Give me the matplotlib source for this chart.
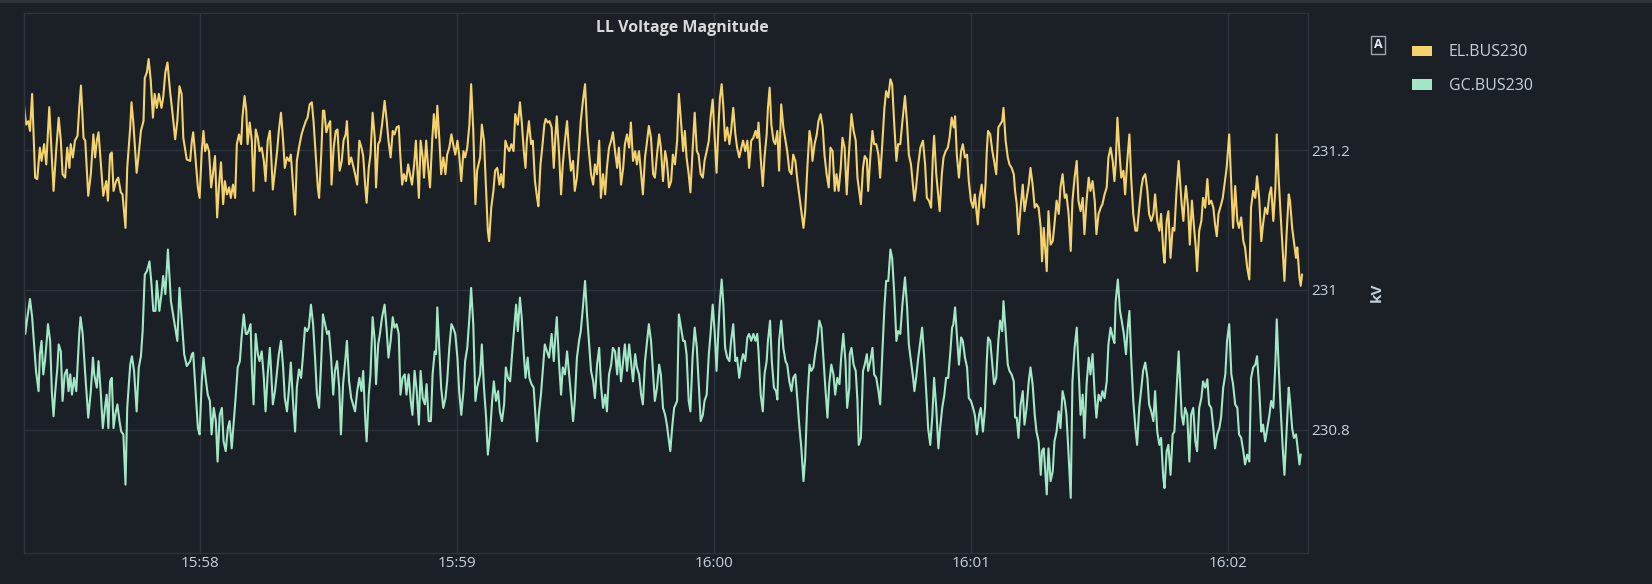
import datetime as dt
import matplotlib
matplotlib.use("Agg")
import matplotlib.pyplot as plt
import matplotlib.dates as mdates
from matplotlib.patches import Rectangle
from matplotlib.legend import Legend
from matplotlib.patches import Patch

plt.rcParams['font.family'] = ['Open Sans', 'DejaVu Sans']

# ---------------- data (seconds after 15:57:00, kV) ----------------
el_time = [
    18.9, 19.4, 19.9, 20.3, 20.8, 21.5, 22.0, 22.6, 23.0, 23.6,
    24.1, 24.8, 25.8, 26.4, 27.0, 27.5, 27.9, 28.5, 29.0, 29.5,
    29.8, 30.3, 30.8, 31.4, 31.8, 32.2, 32.8, 33.2, 33.9, 34.5,
    35.1, 35.5, 35.9, 36.3, 36.8, 37.4, 38.1, 38.5, 39.0, 39.4,
    39.8, 40.4, 40.9, 41.5, 41.9, 42.6, 43.0, 43.7, 44.0, 44.4,
    45.2, 45.6, 46.2, 46.8, 47.1, 47.6, 48.0, 48.5, 49.0, 49.4,
    49.9, 50.4, 51.0, 51.4, 51.9, 52.4, 53.0, 53.6, 54.2, 54.7,
    55.2, 55.7, 56.1, 56.9,
    57.7, 58.1, 58.4, 58.8, 59.5, 59.9, 60.4, 60.8, 61.2, 61.6,
    62.1, 62.6, 63.0, 63.5, 64.0, 64.4, 64.9, 65.4, 65.8, 66.3,
    66.8, 67.2, 67.7, 68.2, 68.6, 69.1, 69.6, 69.9, 70.4, 70.8,
    71.1, 71.6, 72.1, 72.5, 73.0, 73.5, 73.9, 74.4, 74.9, 75.3,
    75.8, 76.3, 76.6, 77.0, 77.5, 78.0, 78.4, 78.9, 79.4, 79.8,
    80.3, 80.8, 81.2, 81.7, 82.2, 82.6, 83.1, 83.7, 84.2, 84.7,
    85.1, 85.6, 86.1, 86.5, 87.0, 87.5, 87.8, 88.3, 88.7, 89.0,
    89.5, 90.0, 90.4, 90.7, 91.2, 91.7, 92.1, 92.6, 93.1, 93.5,
    94.0, 94.3, 94.8, 95.3,
    96.2, 96.7, 97.2, 97.7, 98.1, 98.6, 98.9, 99.4, 99.8, 100.3,
    100.8, 101.1, 101.6, 102.0, 102.5, 103.1, 103.6, 104.0, 104.5, 105.0,
    105.4, 105.9, 106.4, 106.7, 107.2, 107.6, 108.1, 108.6, 109.0, 109.5,
    110.0, 110.4, 111.1, 111.5, 112.0, 112.3, 112.8, 113.2, 113.7, 114.2,
    114.6, 115.1, 115.4, 115.9, 116.3, 116.8, 117.3, 117.7, 118.2, 118.7,
    119.1, 119.6, 120.1, 120.5, 121.0, 121.5, 121.9, 122.4, 122.9, 123.3,
    123.8, 124.3, 124.7, 125.4, 125.8, 126.3, 126.8, 127.2, 127.5, 128.0,
    128.5, 128.9, 129.4, 129.9, 130.3, 130.8, 131.3, 131.8, 132.2, 132.7,
    133.2, 133.6, 134.2,
    134.7, 135.1, 135.6, 136.0, 136.3, 136.8, 137.3, 137.7, 138.2, 138.7,
    139.0, 139.5, 139.9, 140.4, 140.7, 141.2, 141.6, 142.1, 142.6, 143.0,
    143.3, 143.8, 144.3, 144.7, 145.2, 145.7, 146.1, 146.6, 147.1, 147.5,
    148.0, 148.5, 148.9, 149.4, 149.9, 150.4, 150.8, 151.3, 151.8, 152.2,
    152.7, 153.2, 153.6, 154.1, 154.6, 155.0, 155.5, 156.0, 156.4, 156.9,
    157.4, 157.8, 158.3, 158.8, 159.2, 159.7, 160.2, 160.6, 161.1, 161.6,
    162.0, 162.5, 163.0, 163.4, 163.9, 164.4, 164.8, 165.3, 165.8, 166.2,
    166.7, 167.2, 167.6, 168.1, 168.6, 169.0, 169.5, 170.0, 170.4, 170.9,
    171.4, 171.8, 172.3, 172.8,
    173.2, 173.6, 174.1, 174.5, 175.0, 175.5, 176.0, 176.4, 176.9, 177.4,
    177.8, 178.3, 178.8, 179.2, 179.7, 180.2, 180.6, 181.1, 181.4, 181.8,
    182.2, 182.6, 183.1, 183.6, 184.0, 184.5, 185.0, 185.4, 185.9, 186.4,
    186.8, 187.3, 187.8, 188.2, 188.7, 189.2, 189.7, 190.1, 190.4, 190.9,
    191.4, 191.8, 192.3, 192.6, 193.0, 193.4, 193.9, 194.3, 194.8, 195.2,
    195.7, 196.2, 196.7, 197.1, 197.6, 198.1, 198.5, 199.0, 199.5, 199.9,
    200.4, 200.9, 201.3, 201.8, 202.3, 202.7, 203.0, 203.5, 204.0, 204.4,
    204.9, 205.4, 205.8, 206.3, 206.8, 207.2, 207.7, 208.2, 208.6, 209.1,
    209.6, 210.0, 210.5, 211.0, 211.4,
    211.7, 212.1, 212.6, 213.1, 213.5, 214.0, 214.3, 214.8, 215.2, 215.7,
    216.0, 216.5, 217.0, 217.4, 217.9, 218.4, 218.8, 219.3, 219.8, 220.2,
    220.7, 221.2, 221.6, 222.1, 222.6, 223.0, 223.5, 224.0, 224.6, 225.1,
    225.5, 226.0, 226.5, 226.8, 227.2, 227.7, 228.2, 228.8, 229.3, 229.7,
    230.2, 230.7, 231.1, 231.4, 231.9, 232.4, 232.7, 233.2, 233.6, 234.1,
    234.6, 235.0, 235.5, 236.0, 236.3, 236.7, 237.2, 237.7, 238.1, 238.6,
    239.1, 239.5, 240.0, 240.5, 240.9, 241.6, 242.0, 242.5, 243.0, 243.4,
    243.7, 244.0, 244.5, 245.0, 245.4, 245.9, 246.4, 246.8, 247.3, 247.6,
    248.1, 248.6, 249.0, 249.5, 250.0,
    250.3, 250.7, 251.1, 251.6, 252.1, 252.5, 253.0, 253.5, 253.9, 254.4,
    254.9, 255.3, 255.8, 256.3, 256.6, 257.0, 257.7, 258.1, 258.6, 259.1,
    259.5, 260.0, 260.5, 260.9, 261.4, 261.9, 262.3, 262.8, 263.3, 263.7,
    264.2, 264.7, 265.1, 265.6, 266.1, 266.5, 267.0, 267.5, 267.9, 268.4,
    268.9, 269.3, 269.8, 270.3, 270.7, 271.2, 271.7, 272.1, 272.6, 273.1,
    273.5, 273.8, 274.2, 274.6, 275.1, 275.6, 276.0, 276.5, 277.0, 277.4,
    277.9, 278.4, 278.8, 279.3, 279.8, 280.2, 280.7, 281.2, 281.6, 282.1,
    282.6, 283.0, 283.5, 284.0, 284.4, 284.9, 285.2, 285.7, 286.1, 286.6,
    287.1, 287.5, 288.0, 288.5,
    289.2, 289.6, 289.9, 290.2, 290.7, 291.1, 291.6, 292.1, 292.5, 292.8,
    293.3, 293.8, 294.2, 294.7, 295.2, 295.6, 296.1, 296.6, 297.0, 297.4,
    297.8, 298.3, 298.8, 299.2, 299.7, 300.0, 300.3, 300.8, 301.2, 301.7,
    302.2, 302.6, 303.1, 303.6, 304.0, 304.5, 305.0, 305.4, 305.9, 306.4,
    306.8, 307.3, 307.8, 308.2, 308.7, 309.2, 309.7, 310.1, 310.6, 311.1,
    311.4, 311.8, 312.3, 312.8, 313.2, 313.7, 314.2, 314.5, 315.0, 315.4,
    315.9, 316.2, 316.7, 317.0, 317.3,
]

el_kv = [
    231.264, 231.237, 231.242, 231.228, 231.281, 231.161, 231.159, 231.204, 231.185, 231.209,
    231.180, 231.262, 231.142, 231.199, 231.247, 231.214, 231.166, 231.161, 231.204, 231.175,
    231.209, 231.190, 231.214, 231.221, 231.261, 231.293, 231.218, 231.214, 231.135, 231.166,
    231.223, 231.190, 231.214, 231.226, 231.185, 231.135, 231.156, 231.128, 231.194, 231.197,
    231.142, 231.156, 231.161, 231.140, 231.137, 231.089, 231.175, 231.233, 231.269, 231.242,
    231.168, 231.190, 231.228, 231.242, 231.304, 231.312, 231.331, 231.300, 231.247, 231.281,
    231.261, 231.281, 231.261, 231.276, 231.312, 231.326, 231.285, 231.252, 231.216, 231.242,
    231.292, 231.281, 231.218, 231.187,
    231.185, 231.214, 231.226, 231.199, 231.147, 231.132, 231.199, 231.228, 231.199, 231.209,
    231.199, 231.147, 231.166, 231.192, 231.104, 231.147, 231.183, 231.123, 231.156, 231.137,
    231.147, 231.132, 231.151, 231.132, 231.209, 231.223, 231.209, 231.247, 231.278, 231.257,
    231.209, 231.240, 231.214, 231.142, 231.230, 231.218, 231.199, 231.204, 231.185, 231.156,
    231.214, 231.228, 231.194, 231.144, 231.171, 231.199, 231.228, 231.254, 231.214, 231.175,
    231.190, 231.185, 231.194, 231.151, 231.108, 231.185, 231.204, 231.223, 231.233, 231.242,
    231.247, 231.266, 231.269, 231.242, 231.194, 231.147, 231.132, 231.194, 231.257, 231.257,
    231.226, 231.237, 231.242, 231.151, 231.204, 231.228, 231.230, 231.171, 231.185, 231.214,
    231.223, 231.242, 231.180, 231.190,
    231.166, 231.151, 231.214, 231.204, 231.192, 231.147, 231.125, 231.175, 231.194, 231.254,
    231.218, 231.147, 231.209, 231.214, 231.237, 231.271, 231.242, 231.214, 231.190, 231.228,
    231.223, 231.233, 231.235, 231.199, 231.151, 231.166, 231.156, 231.180, 231.166, 231.151,
    231.180, 231.214, 231.132, 231.214, 231.190, 231.161, 231.214, 231.180, 231.147, 231.214,
    231.252, 231.218, 231.264, 231.214, 231.166, 231.190, 231.166, 231.194, 231.204, 231.223,
    231.209, 231.194, 231.214, 231.194, 231.156, 231.199, 231.190, 231.204, 231.237, 231.295,
    231.228, 231.123, 231.171, 231.190, 231.237, 231.214, 231.142, 231.085, 231.070, 231.118,
    231.142, 231.171, 231.175, 231.151, 231.166, 231.147, 231.214, 231.204, 231.199, 231.209,
    231.199, 231.252, 231.237,
    231.269, 231.242, 231.199, 231.175, 231.214, 231.242, 231.209, 231.214, 231.156, 231.132,
    231.120, 231.180, 231.204, 231.237, 231.245, 231.240, 231.242, 231.233, 231.175, 231.223,
    231.249, 231.199, 231.137, 231.180, 231.214, 231.242, 231.204, 231.171, 231.185, 231.142,
    231.161, 231.204, 231.242, 231.271, 231.295, 231.228, 231.199, 231.166, 231.151, 231.180,
    231.166, 231.214, 231.132, 231.166, 231.137, 231.175, 231.204, 231.214, 231.226, 231.199,
    231.175, 231.204, 231.151, 231.175, 231.209, 231.223, 231.204, 231.240, 231.185, 231.199,
    231.180, 231.199, 231.166, 231.137, 231.190, 231.214, 231.235, 231.218, 231.166, 231.161,
    231.194, 231.223, 231.204, 231.156, 231.199, 231.185, 231.147, 231.156, 231.194, 231.180,
    231.214, 231.281, 231.242, 231.199,
    231.228, 231.190, 231.166, 231.140, 231.199, 231.254, 231.199, 231.194, 231.166, 231.161,
    231.185, 231.199, 231.214, 231.247, 231.273, 231.214, 231.168, 231.242, 231.276, 231.295,
    231.261, 231.214, 231.233, 231.209, 231.228, 231.261, 231.223, 231.204, 231.190, 231.204,
    231.214, 231.199, 231.214, 231.175, 231.214, 231.218, 231.228, 231.218, 231.240, 231.190,
    231.149, 231.190, 231.223, 231.261, 231.290, 231.237, 231.214, 231.209, 231.228, 231.171,
    231.266, 231.233, 231.214, 231.199, 231.171, 231.166, 231.194, 231.185, 231.156, 231.137,
    231.113, 231.089, 231.113, 231.175, 231.228, 231.214, 231.185, 231.209, 231.223, 231.242,
    231.252, 231.233, 231.194, 231.166, 231.147, 231.204, 231.199, 231.142, 231.166, 231.142,
    231.175, 231.218, 231.204, 231.137, 231.185,
    231.214, 231.252, 231.228, 231.214, 231.161, 231.137, 231.123, 231.175, 231.192, 231.187,
    231.142, 231.190, 231.228, 231.209, 231.209, 231.194, 231.161, 231.209, 231.261, 231.285,
    231.276, 231.302, 231.295, 231.237, 231.185, 231.209, 231.209, 231.242, 231.278, 231.237,
    231.194, 231.180, 231.147, 231.128, 231.147, 231.180, 231.204, 231.214, 231.180, 231.132,
    231.128, 231.118, 231.190, 231.221, 231.166, 231.132, 231.113, 231.166, 231.190, 231.199,
    231.204, 231.218, 231.247, 231.233, 231.249, 231.194, 231.161, 231.199, 231.209, 231.190,
    231.194, 231.156, 231.128, 231.118, 231.137, 231.094, 231.132, 231.151, 231.118, 231.151,
    231.199, 231.228, 231.223, 231.199, 231.185, 231.166, 231.233, 231.237, 231.242, 231.261,
    231.214, 231.190, 231.180, 231.175, 231.166,
    231.142, 231.123, 231.080, 231.118, 231.151, 231.113, 231.132, 231.151, 231.175, 231.151,
    231.118, 231.123, 231.118, 231.089, 231.041, 231.089, 231.027, 231.113, 231.065, 231.070,
    231.094, 231.128, 231.109, 231.147, 231.166, 231.132, 231.137, 231.109, 231.056, 231.128,
    231.161, 231.185, 231.128, 231.113, 231.132, 231.080, 231.128, 231.161, 231.142, 231.156,
    231.128, 231.080, 231.109, 231.118, 231.123, 231.137, 231.147, 231.190, 231.204, 231.185,
    231.156, 231.180, 231.247, 231.204, 231.161, 231.171, 231.137, 231.185, 231.223, 231.161,
    231.109, 231.085, 231.085, 231.118, 231.147, 231.161, 231.166, 231.142, 231.109, 231.099,
    231.109, 231.137, 231.099, 231.085, 231.109, 231.056, 231.039, 231.099, 231.113, 231.046,
    231.089, 231.085, 231.142, 231.185,
    231.123, 231.099, 231.128, 231.149, 231.118, 231.065, 231.128, 231.089, 231.061, 231.027,
    231.085, 231.099, 231.132, 231.118, 231.159, 231.123, 231.128, 231.118, 231.094, 231.077,
    231.109, 231.120, 231.132, 231.151, 231.175, 231.199, 231.223, 231.147, 231.089, 231.149,
    231.099, 231.089, 231.104, 231.070, 231.061, 231.032, 231.015, 231.118, 231.142, 231.132,
    231.163, 231.132, 231.070, 231.094, 231.118, 231.109, 231.137, 231.147, 231.099, 231.147,
    231.223, 231.166, 231.109, 231.056, 231.013, 231.080, 231.137, 231.128, 231.089, 231.070,
    231.046, 231.061, 231.018, 231.006, 231.022,
]

gc_time = [
    18.9, 19.2, 19.7, 20.3, 20.8, 21.2, 21.7, 22.3, 22.6, 23.0,
    23.4, 23.8, 24.2, 24.5, 25.0, 25.4, 25.8, 26.2, 26.7, 27.0,
    27.5, 27.9, 28.4, 28.9, 29.3, 29.7, 30.1, 30.6, 31.1, 31.5,
    31.8, 32.1, 32.6, 33.2, 33.9, 34.5, 35.0, 35.3, 35.9, 36.3,
    36.8, 37.3, 37.8, 38.2, 38.6, 39.0, 39.4, 39.8, 40.2, 40.7,
    41.2, 41.6, 42.1, 42.6, 43.0, 43.7, 44.1, 44.6, 45.2, 45.7,
    46.2, 46.6, 47.1, 47.6, 48.2, 48.6, 49.1, 49.6, 49.9, 50.5,
    51.0, 51.4, 51.9, 52.5, 53.2, 53.8, 54.2, 54.7, 55.2, 55.8,
    56.3, 56.9,
    57.7, 58.1, 58.4, 59.0, 59.5, 59.9, 60.4, 60.8, 61.3, 61.8,
    62.3, 62.7, 63.2, 63.7, 64.1, 64.6, 65.1, 65.5, 66.0, 66.5,
    66.9, 67.4, 67.9, 68.3, 68.8, 69.3, 69.7, 70.2, 70.7, 71.0,
    71.3, 71.8, 72.1, 72.5, 73.0, 73.5, 73.9, 74.4, 74.9, 75.3,
    75.8, 76.3, 76.6, 77.0, 77.5, 78.0, 78.4, 78.9, 79.4, 79.8,
    80.3, 80.8, 81.2, 81.7, 82.2, 82.6, 83.1, 83.6, 84.0, 84.5,
    85.0, 85.4, 85.9, 86.4, 86.9, 87.3, 87.8, 88.3, 88.7, 89.2,
    89.7, 90.1, 90.6, 91.1, 91.5, 92.0, 92.5, 92.9, 93.4, 93.9,
    94.3, 94.8, 95.3,
    96.2, 96.7, 97.2, 97.7, 98.1, 98.6, 98.9, 99.4, 99.8, 100.3,
    100.8, 101.1, 101.6, 102.0, 102.5, 103.1, 103.6, 104.0, 104.5, 105.0,
    105.4, 105.9, 106.4, 106.8, 107.3, 107.8, 108.2, 108.7, 109.2, 109.6,
    110.1, 110.6, 111.1, 111.5, 112.0, 112.5, 112.9, 113.4, 113.9, 114.3,
    114.8, 115.1, 115.4, 115.9, 116.3, 116.8, 117.3, 117.7, 118.2, 118.7,
    119.1, 119.6, 120.1, 120.5, 121.0, 121.5, 121.9, 122.4, 122.9, 123.3,
    123.8, 124.3, 124.7, 125.4, 125.8, 126.3, 126.8, 127.2, 127.7, 128.2,
    128.6, 129.1, 129.6, 130.0, 130.5, 131.0, 131.4, 131.9, 132.4, 132.8,
    133.3, 133.8, 134.2,
    134.7, 135.1, 135.6, 136.0, 136.5, 136.9, 137.4, 137.9, 138.4, 138.7,
    139.1, 139.6, 140.1, 140.5, 141.0, 141.5, 142.1, 142.6, 143.0, 143.3,
    143.8, 144.3, 144.7, 145.2, 145.7, 146.1, 146.6, 147.1, 147.5, 148.0,
    148.5, 148.9, 149.4, 149.9, 150.4, 150.8, 151.3, 151.8, 152.2, 152.7,
    153.2, 153.6, 154.1, 154.6, 155.0, 155.5, 156.0, 156.4, 156.9, 157.4,
    157.8, 158.3, 158.8, 159.2, 159.7, 160.2, 160.6, 161.1, 161.6, 162.0,
    162.5, 163.0, 163.4, 163.9, 164.4, 164.8, 165.3, 165.8, 166.2, 166.7,
    167.2, 167.6, 168.1, 168.6, 169.0, 169.5, 169.8, 170.3, 170.7, 171.4,
    171.8, 172.3, 172.8,
    173.2, 173.6, 174.1, 174.5, 175.0, 175.5, 176.0, 176.4, 176.9, 177.4,
    177.8, 178.3, 178.8, 179.2, 179.7, 180.2, 180.6, 181.1, 181.4, 181.8,
    182.2, 182.6, 183.1, 183.6, 184.0, 184.5, 185.0, 185.4, 185.9, 186.4,
    186.8, 187.3, 187.8, 188.2, 188.7, 189.2, 189.7, 190.1, 190.4, 190.9,
    191.4, 191.8, 192.3, 192.6, 193.1, 193.5, 194.0, 194.5, 194.8, 195.2,
    195.7, 196.2, 196.7, 197.1, 197.6, 198.1, 198.5, 199.0, 199.5, 199.9,
    200.4, 200.9, 201.3, 201.8, 202.3, 202.7, 203.2, 203.7, 204.1, 204.6,
    205.1, 205.5, 206.0, 206.5, 206.9, 207.4, 207.9, 208.3, 208.8, 209.3,
    209.7, 210.2, 210.7, 211.1, 211.6,
    211.7, 212.1, 212.6, 213.1, 213.5, 213.8, 214.3, 214.8, 215.2, 215.7,
    216.0, 216.5, 217.0, 217.4, 217.9, 218.4, 218.8, 219.3, 219.8, 220.2,
    220.7, 221.2, 221.6, 222.1, 222.6, 223.0, 223.5, 224.0, 224.6, 225.1,
    225.5, 226.0, 226.5, 226.8, 227.2, 227.7, 228.2, 228.6, 229.1, 229.6,
    230.0, 230.5, 231.0, 231.4, 231.9, 232.4, 232.8, 233.3, 233.8, 234.2,
    234.7, 235.2, 235.6, 235.9, 236.3, 236.7, 237.2, 237.7, 238.1, 238.6,
    239.1, 239.5, 240.0, 240.5, 240.9, 241.4, 241.9, 242.3, 242.8, 243.3,
    243.7, 244.0, 244.5, 245.0, 245.4, 245.9, 246.4, 246.8, 247.3, 247.6,
    248.1, 248.6, 249.0, 249.5, 250.0,
    250.3, 250.7, 251.1, 251.6, 252.1, 252.5, 253.0, 253.5, 253.9, 254.4,
    254.9, 255.3, 255.8, 256.3, 256.6, 257.0, 257.7, 258.1, 258.6, 259.1,
    259.5, 260.0, 260.5, 260.9, 261.4, 261.9, 262.3, 262.8, 263.3, 263.7,
    264.2, 264.7, 265.1, 265.6, 266.1, 266.5, 267.0, 267.5, 267.9, 268.4,
    268.9, 269.3, 269.8, 270.3, 270.7, 271.2, 271.7, 272.1, 272.6, 273.1,
    273.5, 273.8, 274.3, 274.8, 275.2, 275.7, 276.2, 276.6, 277.0, 277.4,
    277.9, 278.4, 278.8, 279.3, 279.8, 280.2, 280.7, 281.2, 281.6, 282.1,
    282.6, 283.0, 283.5, 284.0, 284.4, 284.9, 285.2, 285.7, 286.1, 286.6,
    287.1, 287.5, 288.0, 288.5,
    289.2, 289.6, 290.0, 290.5, 291.0, 291.4, 291.9, 292.4, 292.8, 293.3,
    293.8, 294.2, 294.7, 295.2, 295.6, 296.1, 296.6, 297.0, 297.5, 298.0,
    298.4, 298.9, 299.4, 299.8, 300.3, 300.8, 301.2, 301.7, 302.2, 302.6,
    303.1, 303.6, 304.0, 304.5, 305.0, 305.4, 305.9, 306.4, 306.8, 307.3,
    307.8, 308.2, 308.7, 309.2, 309.7, 310.1, 310.6, 311.1, 311.4, 311.8,
    312.3, 312.8, 313.2, 313.7, 314.2, 314.5, 315.0, 315.4, 315.9, 316.2,
    316.7, 317.0,
]

gc_kv = [
    230.989, 230.937, 230.961, 230.987, 230.961, 230.927, 230.884, 230.855, 230.908, 230.927,
    230.879, 230.898, 230.927, 230.951, 230.927, 230.855, 230.819, 230.855, 230.889, 230.922,
    230.912, 230.841, 230.879, 230.886, 230.855, 230.879, 230.850, 230.874, 230.855, 230.903,
    230.937, 230.961, 230.937, 230.879, 230.817, 230.855, 230.903, 230.879, 230.860, 230.898,
    230.855, 230.802, 230.831, 230.850, 230.802, 230.869, 230.874, 230.802, 230.821, 230.836,
    230.812, 230.797, 230.793, 230.721, 230.831, 230.893, 230.905, 230.884, 230.826, 230.889,
    230.905, 230.941, 231.022, 231.027, 231.041, 231.013, 230.970, 230.970, 231.013, 230.970,
    230.994, 231.020, 230.994, 231.058, 230.984, 230.961, 230.946, 230.927, 231.003, 230.951,
    230.908, 230.891,
    230.898, 230.908, 230.910, 230.850, 230.802, 230.793, 230.869, 230.903, 230.874, 230.850,
    230.841, 230.793, 230.831, 230.812, 230.754, 230.821, 230.831, 230.783, 230.769, 230.802,
    230.812, 230.773, 230.812, 230.845, 230.889, 230.898, 230.932, 230.965, 230.937, 230.937,
    230.941, 230.951, 230.889, 230.836, 230.937, 230.908, 230.898, 230.912, 230.874, 230.826,
    230.879, 230.917, 230.884, 230.836, 230.855, 230.884, 230.908, 230.927, 230.889, 230.845,
    230.826, 230.860, 230.896, 230.841, 230.797, 230.860, 230.886, 230.874, 230.903, 230.946,
    230.941, 230.946, 230.979, 230.951, 230.898, 230.850, 230.831, 230.898, 230.965, 230.951,
    230.937, 230.941, 230.903, 230.850, 230.884, 230.898, 230.860, 230.793, 230.865, 230.898,
    230.927, 230.869, 230.845,
    230.826, 230.855, 230.874, 230.855, 230.884, 230.812, 230.783, 230.850, 230.879, 230.961,
    230.927, 230.865, 230.922, 230.937, 230.961, 230.979, 230.941, 230.903, 230.927, 230.961,
    230.946, 230.951, 230.937, 230.850, 230.874, 230.879, 230.850, 230.879, 230.841, 230.821,
    230.884, 230.855, 230.807, 230.884, 230.845, 230.836, 230.865, 230.812, 230.812, 230.879,
    230.912, 230.908, 230.975, 230.912, 230.860, 230.831, 230.845, 230.869, 230.917, 230.951,
    230.946, 230.937, 230.903, 230.855, 230.821, 230.855, 230.898, 230.917, 230.961, 231.003,
    230.951, 230.841, 230.860, 230.879, 230.922, 230.860, 230.817, 230.764, 230.793, 230.841,
    230.869, 230.841, 230.855, 230.826, 230.812, 230.836, 230.889, 230.874, 230.869, 230.903,
    230.941, 230.979, 230.941,
    230.989, 230.961, 230.908, 230.874, 230.903, 230.874, 230.865, 230.860, 230.812, 230.783,
    230.821, 230.850, 230.889, 230.922, 230.912, 230.903, 230.937, 230.898, 230.937, 230.961,
    230.898, 230.850, 230.889, 230.879, 230.912, 230.884, 230.850, 230.812, 230.841, 230.903,
    230.927, 230.941, 230.975, 231.013, 230.961, 230.927, 230.884, 230.869, 230.845, 230.893,
    230.917, 230.865, 230.831, 230.850, 230.826, 230.879, 230.893, 230.917, 230.912, 230.879,
    230.917, 230.869, 230.898, 230.922, 230.884, 230.922, 230.898, 230.869, 230.908, 230.889,
    230.879, 230.850, 230.836, 230.898, 230.927, 230.951, 230.927, 230.879, 230.841, 230.860,
    230.893, 230.879, 230.831, 230.821, 230.807, 230.783, 230.769, 230.807, 230.831, 230.841,
    230.965, 230.946, 230.927,
    230.927, 230.908, 230.841, 230.826, 230.903, 230.946, 230.917, 230.869, 230.812, 230.821,
    230.841, 230.850, 230.908, 230.937, 230.979, 230.937, 230.884, 230.951, 230.984, 231.015,
    230.979, 230.917, 230.903, 230.898, 230.927, 230.951, 230.898, 230.903, 230.874, 230.898,
    230.908, 230.898, 230.932, 230.937, 230.927, 230.937, 230.927, 230.937, 230.912, 230.850,
    230.826, 230.879, 230.898, 230.927, 230.956, 230.898, 230.860, 230.855, 230.843, 230.927,
    230.956, 230.917, 230.898, 230.893, 230.869, 230.855, 230.874, 230.879, 230.841, 230.807,
    230.773, 230.726, 230.759, 230.841, 230.893, 230.884, 230.889, 230.912, 230.927, 230.956,
    230.946, 230.908, 230.860, 230.817, 230.865, 230.893, 230.879, 230.850, 230.874, 230.865,
    230.903, 230.937, 230.898, 230.831, 230.860,
    230.908, 230.917, 230.893, 230.884, 230.841, 230.778, 230.788, 230.884, 230.893, 230.908,
    230.884, 230.898, 230.917, 230.879, 230.874, 230.855, 230.836, 230.908, 230.975, 231.013,
    231.013, 231.058, 231.046, 230.994, 230.927, 230.941, 230.937, 230.979, 231.018, 230.975,
    230.922, 230.898, 230.874, 230.855, 230.874, 230.903, 230.927, 230.946, 230.903, 230.850,
    230.802, 230.778, 230.821, 230.874, 230.831, 230.773, 230.802, 230.831, 230.850, 230.874,
    230.874, 230.912, 230.946, 230.951, 230.975, 230.937, 230.893, 230.932, 230.927, 230.903,
    230.889, 230.845, 230.841, 230.831, 230.821, 230.793, 230.821, 230.831, 230.797, 230.831,
    230.898, 230.932, 230.927, 230.893, 230.865, 230.874, 230.927, 230.956, 230.941, 230.984,
    230.941, 230.893, 230.884, 230.879, 230.869,
    230.817, 230.817, 230.788, 230.836, 230.855, 230.807, 230.831, 230.869, 230.889, 230.865,
    230.821, 230.797, 230.783, 230.735, 230.769, 230.773, 230.707, 230.773, 230.726, 230.740,
    230.783, 230.797, 230.826, 230.802, 230.855, 230.841, 230.821, 230.764, 230.702, 230.869,
    230.917, 230.946, 230.889, 230.821, 230.850, 230.788, 230.865, 230.903, 230.879, 230.908,
    230.850, 230.817, 230.850, 230.841, 230.855, 230.845, 230.869, 230.922, 230.946, 230.932,
    230.924, 230.984, 231.015, 230.970, 230.956, 230.937, 230.908, 230.946, 230.970, 230.903,
    230.841, 230.802, 230.778, 230.831, 230.860, 230.884, 230.896, 230.874, 230.836, 230.826,
    230.812, 230.855, 230.797, 230.778, 230.788, 230.731, 230.716, 230.769, 230.778, 230.735,
    230.793, 230.797, 230.855, 230.912,
    230.821, 230.807, 230.831, 230.821, 230.754, 230.821, 230.831, 230.783, 230.769, 230.831,
    230.845, 230.869, 230.860, 230.872, 230.836, 230.831, 230.802, 230.773, 230.793, 230.802,
    230.817, 230.860, 230.879, 230.927, 230.951, 230.879, 230.865, 230.836, 230.831, 230.793,
    230.788, 230.769, 230.750, 230.764, 230.754, 230.874, 230.889, 230.893, 230.905, 230.860,
    230.797, 230.807, 230.783, 230.802, 230.821, 230.841, 230.831, 230.898, 230.958, 230.898,
    230.831, 230.773, 230.735, 230.797, 230.860, 230.841, 230.802, 230.788, 230.793, 230.778,
    230.750, 230.764,
]

series_names = ["EL.BUS230", "GC.BUS230"]
series_colors = ["#F5D36C", "#A3E8C6"]
y_ticks = [230.8, 231.0, 231.2]
y_tick_labels = ["230.8", "231", "231.2"]
title = "LL Voltage Magnitude"
y_unit = "kV"

# ---------------- figure ----------------
BG = "#1B2027"
GRID = "#2D333B"
TXT = "#C7D0D9"
W, H = 1652, 584

fig = plt.figure(figsize=(W / 100, H / 100), dpi=100, facecolor=BG)
ax = fig.add_axes([24 / W, 31 / H, 1284 / W, 540 / H], facecolor=BG)

base = dt.datetime(2024, 1, 1, 15, 57, 0)
el_x = [base + dt.timedelta(seconds=t) for t in el_time]
gc_x = [base + dt.timedelta(seconds=t) for t in gc_time]

ax.plot(el_x, el_kv, color=series_colors[0], lw=1.5, solid_joinstyle='round')
ax.plot(gc_x, gc_kv, color=series_colors[1], lw=1.5, solid_joinstyle='round')

ax.set_xlim(base + dt.timedelta(seconds=18.9), base + dt.timedelta(seconds=318.7))
ax.set_ylim(230.623, 231.397)

ax.xaxis.set_major_locator(mdates.MinuteLocator())
ax.xaxis.set_major_formatter(mdates.DateFormatter('%H:%M'))
ax.yaxis.tick_right()
ax.set_yticks(y_ticks)
ax.set_yticklabels(y_tick_labels)

ax.grid(True, color=GRID, lw=1.0)
ax.set_axisbelow(True)
for s in ax.spines.values():
    s.set_color(GRID)
    s.set_linewidth(1.0)

ax.tick_params(axis='both', length=0, labelsize=11, labelcolor=TXT)
ax.tick_params(axis='x', pad=2.5)
ax.tick_params(axis='y', pad=2.2)

fig.text(682 / W, 1 - 28 / H, title, ha='center', va='center', fontsize=11.5,
         fontweight='bold', color="#D8D9DA")
fig.text(1377 / W, 1 - 292 / H, y_unit, ha='center', va='center', rotation=90,
         fontsize=11, fontweight='bold', color=TXT)

# legend (colour swatches + names), placed in figure pixels
swatch_tops = [45.7, 79.3]
baselines = [56.5, 90.0]
for name, col, top, bl in zip(series_names, series_colors, swatch_tops, baselines):
    fig.add_artist(Rectangle((1412 / W, 1 - (top + 10.3) / H), 19.5 / W, 10.3 / H,
                             transform=fig.transFigure, facecolor=col,
                             edgecolor='none'))
    fig.text(1449 / W, 1 - bl / H, name, ha='left', va='baseline',
             fontsize=11.5, color=TXT)

fig.text(1378 / W, 1 - 44.5 / H, "A", ha='center', va='center', fontsize=9,
         fontweight='bold', color="#E8EEF5",
         bbox=dict(boxstyle='square,pad=0.2', fc=BG, ec="#A0A6AD", lw=1.0))

# top border strip
fig.add_artist(Rectangle((0, 1 - 3 / H), 1, 3 / H, transform=fig.transFigure,
                         facecolor="#2E333A", edgecolor='none'))

fig.savefig("out.png", dpi=100, facecolor=BG)
